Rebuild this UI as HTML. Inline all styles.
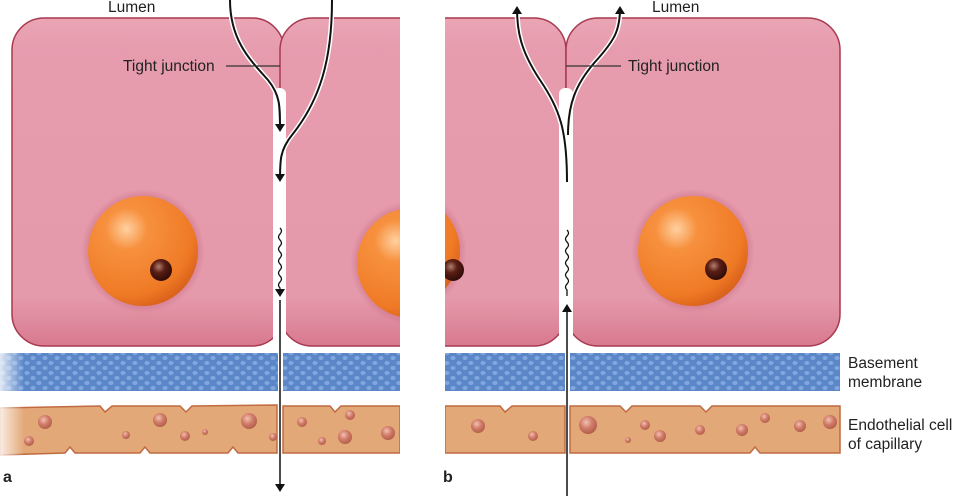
<!DOCTYPE html>
<html><head><meta charset="utf-8"><style>
html,body{margin:0;padding:0;background:#fff;}
svg{display:block;font-family:"Liberation Sans",sans-serif;}
</style></head><body>
<svg width="960" height="496" viewBox="0 0 960 496" xmlns="http://www.w3.org/2000/svg">
<defs>
<linearGradient id="cell" x1="0" y1="0" x2="0" y2="1">
<stop offset="0" stop-color="#eaa5b5"/><stop offset="0.1" stop-color="#e69cad"/><stop offset="0.85" stop-color="#e59aab"/><stop offset="1" stop-color="#d8798f"/>
</linearGradient>
<radialGradient id="nuc" cx="0.35" cy="0.3" r="0.75">
<stop offset="0" stop-color="#ffd0a0"/><stop offset="0.25" stop-color="#f7913f"/><stop offset="0.8" stop-color="#ef7a25"/><stop offset="1" stop-color="#d8601a"/>
</radialGradient>
<radialGradient id="dot" cx="0.4" cy="0.35" r="0.7">
<stop offset="0" stop-color="#b08070"/><stop offset="0.4" stop-color="#5a1e14"/><stop offset="1" stop-color="#2a0a06"/>
</radialGradient>
<radialGradient id="halo" cx="0.5" cy="0.5" r="0.5">
<stop offset="0.8" stop-color="#c0607a" stop-opacity="0.6"/><stop offset="1" stop-color="#c0607a" stop-opacity="0"/>
</radialGradient>
<linearGradient id="fade" x1="0" y1="0" x2="1" y2="0">
<stop offset="0" stop-color="#fff" stop-opacity="0.8"/><stop offset="1" stop-color="#fff" stop-opacity="0"/>
</linearGradient>
<pattern id="bm" width="12" height="10" patternUnits="userSpaceOnUse">
<rect width="12" height="10" fill="#5b87c8"/>
<ellipse cx="3" cy="3" rx="2.6" ry="2" fill="#80a7de"/><ellipse cx="9" cy="8" rx="2.6" ry="2" fill="#80a7de"/>
</pattern>
<radialGradient id="ves" cx="0.4" cy="0.35" r="0.7">
<stop offset="0" stop-color="#f3c0b0"/><stop offset="0.5" stop-color="#d07a68"/><stop offset="1" stop-color="#b05a48"/>
</radialGradient>
<marker id="ah" markerWidth="8" markerHeight="10" refX="6" refY="5" orient="auto" markerUnits="userSpaceOnUse">
<path d="M0,0 L8,5 L0,10 z" fill="#111"/>
</marker>
<clipPath id="ca"><rect x="0" y="0" width="400" height="496"/></clipPath>
<clipPath id="cb"><rect x="445" y="0" width="400" height="496"/></clipPath>
</defs>

<!-- Panel a -->
<g clip-path="url(#ca)">
<rect x="12" y="18" width="272" height="328" rx="32" fill="url(#cell)" stroke="#a8394f" stroke-width="1.5"/>
<rect x="280" y="18" width="240" height="328" rx="32" fill="url(#cell)" stroke="#a8394f" stroke-width="1.5"/>
<rect x="273" y="88" width="13" height="270" rx="6" fill="#fff"/>
<circle cx="143" cy="251" r="62" fill="url(#halo)"/>
<circle cx="143" cy="251" r="55" fill="url(#nuc)"/>
<circle cx="161" cy="270" r="11" fill="url(#dot)"/>
<circle cx="412" cy="263" r="62" fill="url(#halo)"/>
<circle cx="412" cy="263" r="55" fill="url(#nuc)"/>
<rect x="0" y="353" width="278" height="38" fill="url(#bm)"/>
<rect x="283" y="353" width="120" height="38" fill="url(#bm)"/>
<path d="M0,408 L100,406 L105,412 L112,406 L180,406 L186,412 L192,406 L277,405 L277,453 L238,453 L233,447 L228,453 L150,453 L145,447 L140,453 L75,453 L70,447 L65,453 L0,455 Z" fill="#e3a878" stroke="#c06a40" stroke-width="1.5"/>
<path d="M283,406 L330,406 L335,412 L341,406 L400,406 L400,453 L283,453 Z" fill="#e3a878" stroke="#c06a40" stroke-width="1.5"/>
<g fill="url(#ves)">
<circle cx="45" cy="422" r="7"/><circle cx="29" cy="441" r="5"/><circle cx="160" cy="420" r="7"/><circle cx="126" cy="435" r="4"/><circle cx="185" cy="436" r="5"/><circle cx="205" cy="432" r="3"/><circle cx="249" cy="421" r="8"/><circle cx="273" cy="437" r="4"/>
<circle cx="302" cy="422" r="5"/><circle cx="350" cy="415" r="5"/><circle cx="345" cy="437" r="7"/><circle cx="388" cy="433" r="7"/><circle cx="322" cy="441" r="4"/>
</g>
</g>
<rect x="0" y="350" width="24" height="110" fill="url(#fade)"/>

<!-- Panel b -->
<g clip-path="url(#cb)">
<rect x="330" y="18" width="236" height="328" rx="32" fill="url(#cell)" stroke="#a8394f" stroke-width="1.5"/>
<rect x="566" y="18" width="274" height="328" rx="32" fill="url(#cell)" stroke="#a8394f" stroke-width="1.5"/>
<rect x="559" y="88" width="14" height="270" rx="6" fill="#fff"/>
<circle cx="693" cy="251" r="62" fill="url(#halo)"/>
<circle cx="693" cy="251" r="55" fill="url(#nuc)"/>
<circle cx="716" cy="269" r="11" fill="url(#dot)"/>
<circle cx="405" cy="251" r="62" fill="url(#halo)"/>
<circle cx="405" cy="251" r="55" fill="url(#nuc)"/>
<circle cx="453" cy="270" r="11" fill="url(#dot)"/>
<rect x="445" y="353" width="120" height="38" fill="url(#bm)"/>
<rect x="570" y="353" width="270" height="38" fill="url(#bm)"/>
<path d="M445,406 L500,406 L505,412 L512,406 L565,406 L565,453 L445,453 Z" fill="#e3a878" stroke="#c06a40" stroke-width="1.5"/>
<path d="M570,406 L620,406 L626,412 L632,406 L700,406 L706,412 L712,406 L840,406 L840,453 L760,453 L755,447 L750,453 L570,453 Z" fill="#e3a878" stroke="#c06a40" stroke-width="1.5"/>
<g fill="url(#ves)">
<circle cx="478" cy="426" r="7"/><circle cx="533" cy="436" r="5"/><circle cx="588" cy="425" r="9"/><circle cx="628" cy="440" r="3"/><circle cx="645" cy="425" r="5"/><circle cx="660" cy="436" r="6"/><circle cx="700" cy="430" r="5"/><circle cx="742" cy="430" r="6"/><circle cx="765" cy="418" r="5"/><circle cx="800" cy="426" r="6"/><circle cx="830" cy="422" r="7"/>
</g>
</g>

<!-- Arrows panel a -->
<g fill="none" stroke-width="2">
<path d="M230,0 C230,40 250,60 268,80 C280,95 280,105 280,130" stroke="#fff" stroke-width="5"/>
<path d="M230,0 C230,40 250,60 268,80 C280,95 280,105 280,130" stroke="#111" marker-end="url(#ah)"/>
<path d="M332,0 C332,60 320,100 292,135 C280,150 280,160 280,180" stroke="#fff" stroke-width="5"/>
<path d="M332,0 C332,60 320,100 292,135 C280,150 280,160 280,180" stroke="#111" marker-end="url(#ah)"/>
<path d="M280,228 q3,3 0,6 q-3,3 0,6 q3,3 0,6 q-3,3 0,6 q3,3 0,6 q-3,3 0,6 q3,3 0,6 q-3,3 0,6 q3,3 0,6 q-3,3 0,6 L280,295" stroke="#111" stroke-width="1.3" marker-end="url(#ah)"/>
<path d="M280,300 L280,490" stroke="#111" stroke-width="1.5" marker-end="url(#ah)"/>
<path d="M226,66 L280,66" stroke="#333" stroke-width="1.2"/>
</g>
<!-- Arrows panel b -->
<g fill="none" stroke-width="2">
<path d="M567,182 C567,130 560,110 540,80 C520,50 517,30 517,8" stroke="#fff" stroke-width="5"/>
<path d="M567,182 C567,130 560,110 540,80 C520,50 517,30 517,8" stroke="#111" marker-end="url(#ah)"/>
<path d="M568,135 C568,105 575,85 595,62 C615,40 620,30 620,8" stroke="#fff" stroke-width="5"/>
<path d="M568,135 C568,105 575,85 595,62 C615,40 620,30 620,8" stroke="#111" marker-end="url(#ah)"/>
<path d="M567,230 q3,3 0,6 q-3,3 0,6 q3,3 0,6 q-3,3 0,6 q3,3 0,6 q-3,3 0,6 q3,3 0,6 q-3,3 0,6 q3,3 0,6 q-3,3 0,6 L567,296" stroke="#111" stroke-width="1.3"/>
<path d="M567,496 L567,306" stroke="#111" stroke-width="1.5" marker-end="url(#ah)"/>
<path d="M566,66 L621,66" stroke="#333" stroke-width="1.2"/>
</g>

<g fill="#222" font-size="15.5">
<text x="108" y="12">Lumen</text>
<text x="123" y="71">Tight junction</text>
<text x="652" y="12">Lumen</text>
<text x="628" y="71">Tight junction</text>
<text x="848" y="368">Basement</text>
<text x="848" y="387">membrane</text>
<text x="848" y="430">Endothelial cell</text>
<text x="848" y="449">of capillary</text>
<text x="3" y="482" font-weight="bold" font-size="16">a</text>
<text x="443" y="482" font-weight="bold" font-size="16">b</text>
</g>
</svg>
</body></html>
